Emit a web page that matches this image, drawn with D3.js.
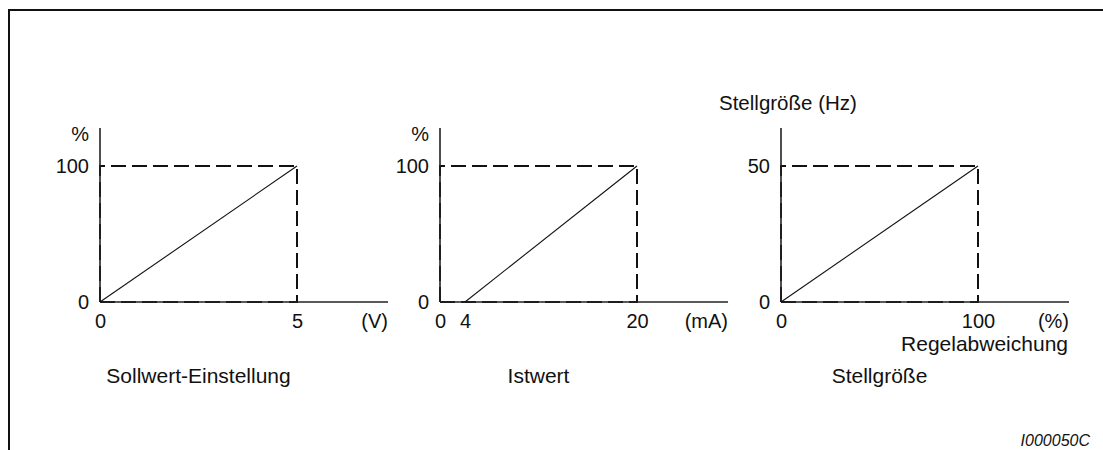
<!DOCTYPE html>
<html>
<head>
<meta charset="utf-8">
<script src="https://cdn.jsdelivr.net/npm/d3@7"></script>
<style>
  body { margin: 0; background: #fff; }
  svg text { font-family: "Liberation Sans", Arial, sans-serif; fill: #111; }
</style>
</head>
<body>
<div id="chart-container"></div>
<script>
// data for the three small diagrams
var titles = ['Sollwert-Einstellung', 'Istwert', 'Stellgröße']
var xMax = [5, 20, 100]
var yMax = [100, 100, 50]
var xTicks = [[0, 5], [0, 4, 20], [0, 100]]
var yTicks = [[0, 100], [0, 100], [0, 50]]
var xUnits = ['(V)', '(mA)', '(%)']
var yUnits = ['%', '%', 'Stellgröße (Hz)']
var xNames = ['', '', 'Regelabweichung']
var sollwert = [[0, 0], [5, 100]]
var istwert = [[4, 0], [20, 100]]
var stellgroesse = [[0, 0], [100, 50]]
var series = [sollwert, istwert, stellgroesse]
var figId = 'I000050C'

var width = 1103
var height = 450
var svg = d3.select('#chart-container').append('svg').attr('width', width).attr('height', height)

// frame (top + left only)
svg.append('path').attr('d', 'M9,450 V10 H1103').attr('fill', 'none').attr('stroke', '#111').attr('stroke-width', 2)

var originX = [100, 440, 781]
var originY = 302
var plotW = 197, plotH = 136, axisW = 288, axisH = 174

series.forEach(function(d, i) {
  var g = svg.append('g').attr('transform', 'translate(' + originX[i] + ',' + originY + ')')

  // the current input has an offset, so its x scale is drawn non-uniform like the sketch
  var x = i == 1
    ? d3.scaleLinear().domain([0, 4, xMax[i]]).range([0, 25, plotW])
    : d3.scaleLinear().domain([0, xMax[i]]).range([0, plotW])
  var y = d3.scaleLinear().domain([0, yMax[i]]).range([0, -plotH])

  // dashed guide box
  g.append('path')
    .datum([[0, 0], [0, yMax[i]], [xMax[i], yMax[i]], [xMax[i], 0], [0, 0]])
    .attr('d', d3.line().x(function(p) { return x(p[0]) }).y(function(p) { return y(p[1]) }))
    .attr('fill', 'none').attr('stroke', '#111').attr('stroke-width', 2)
    .attr('stroke-dasharray', '15,6')

  // axes lines
  g.append('line').attr('x1', 0).attr('x2', 0).attr('y1', 0).attr('y2', -axisH)
    .attr('stroke', '#222').attr('stroke-width', 1.6)
  g.append('line').attr('x1', 0).attr('x2', axisW).attr('y1', 0).attr('y2', 0)
    .attr('stroke', '#222').attr('stroke-width', 1.6)

  // characteristic line
  g.append('path').datum(d)
    .attr('d', d3.line().x(function(p) { return x(p[0]) }).y(function(p) { return y(p[1]) }))
    .attr('fill', 'none').attr('stroke', '#111').attr('stroke-width', 1.1)

  // tick labels
  var xa = g.append('g').call(d3.axisBottom(x).tickValues(xTicks[i]).tickSize(0).tickPadding(12).tickFormat(d3.format('d')))
  var ya = g.append('g').call(d3.axisLeft(y).tickValues(yTicks[i]).tickSize(0).tickPadding(11).tickFormat(d3.format('d')))
  ;[xa, ya].forEach(function(a) {
    a.select('.domain').remove()
    a.selectAll('text').attr('font-size', 20).attr('font-family', '"Liberation Sans", Arial, sans-serif').attr('fill', '#111')
  })

  // unit labels
  g.append('text').attr('x', axisW).attr('y', 26).attr('text-anchor', 'end').attr('font-size', 20).text(xUnits[i])
  if (i < 2) {
    g.append('text').attr('x', -11).attr('y', -161).attr('text-anchor', 'end').attr('font-size', 20).text(yUnits[i])
  } else {
    g.append('text').attr('x', -62).attr('y', -192).attr('font-size', 20.5).text(yUnits[i])
    g.append('text').attr('x', axisW - 1).attr('y', 49).attr('text-anchor', 'end').attr('font-size', 21).text(xNames[i])
  }

  // caption
  g.append('text').attr('x', x(xMax[i]) / 2).attr('y', 81).attr('text-anchor', 'middle').attr('font-size', 21).text(titles[i])
})

svg.append('text').attr('x', 1090).attr('y', 446).attr('text-anchor', 'end')
  .attr('font-size', 16).attr('font-style', 'italic').text(figId)
</script>
</body>
</html>
